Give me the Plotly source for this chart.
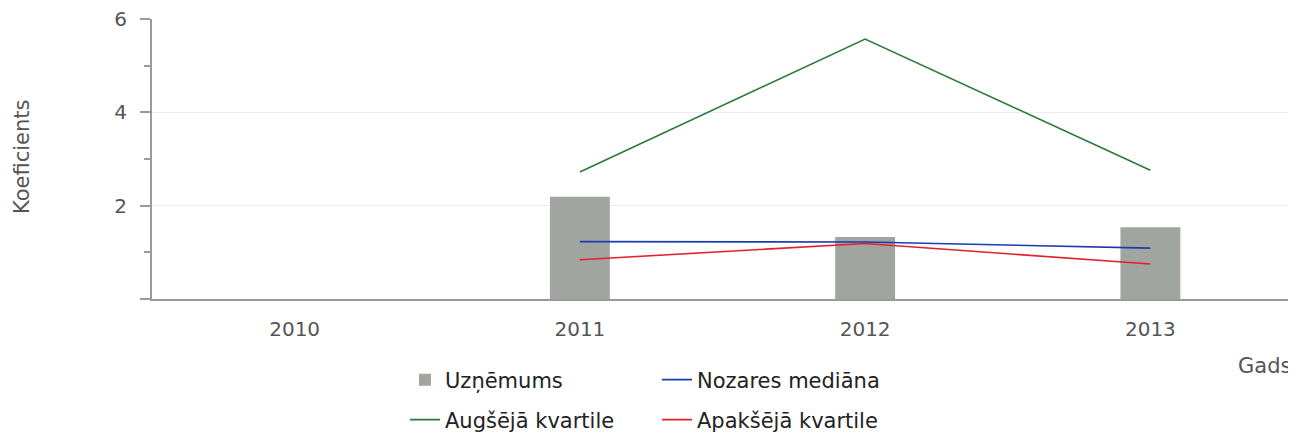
import plotly.graph_objects as go

years = ["2010", "2011", "2012", "2013"]
company = [None, 2.19, 1.33, 1.54]
median = [None, 1.23, 1.22, 1.09]
upper_q = [None, 2.72, 5.57, 2.76]
lower_q = [None, 0.84, 1.19, 0.75]

FONT = "DejaVu Sans"
# page body has an 8px margin, so the figure is drawn 8px in from the corner
W, H = 1288, 426
L, R, T, B = 144, 3, 11, 135
PW, PH = W - L - R, H - T - B
X0, Y1 = 152, 299  # plot left / bottom in screen pixels


def px(xs):
    return (xs - X0) / PW


def py(ys):
    return (Y1 - ys) / PH


fig = go.Figure()
fig.add_trace(go.Bar(x=years, y=company, name="Uzņēmums", width=0.21,
                     marker=dict(color="#a1a59f", line=dict(color="#8e928c", width=0)),
                     legend="legend"))
fig.add_trace(go.Scatter(x=years, y=median, name="Nozares mediāna", mode="lines",
                         line=dict(color="#1a3cb0", width=1.6), legend="legend"))
fig.add_trace(go.Scatter(x=years, y=upper_q, name="Augšējā kvartile", mode="lines",
                         line=dict(color="#2a7a38", width=1.6), legend="legend2"))
fig.add_trace(go.Scatter(x=years, y=lower_q, name="Apakšējā kvartile", mode="lines",
                         line=dict(color="#e5202e", width=1.6), legend="legend2"))

legend_common = dict(orientation="h", xanchor="left", yanchor="middle",
                     font=dict(family=FONT, size=21, color="#222222"),
                     entrywidth=207, entrywidthmode="pixels",
                     bgcolor="rgba(0,0,0,0)", traceorder="normal")

fig.update_layout(
    width=W, height=H,
    margin=dict(l=L, r=R, t=T, b=B, autoexpand=False),
    plot_bgcolor="white", paper_bgcolor="white",
    font=dict(family=FONT, size=20, color="#555555"),
    showlegend=True,
    barmode="overlay",
    legend=dict(x=px(405), y=py(380), **legend_common),
    legend2=dict(x=px(405), y=py(420), **legend_common),
    xaxis=dict(
        type="category", range=[-0.5, 3.5],
        showline=True, linecolor="#9a9a9a", linewidth=2,
        showgrid=False, ticks="outside", ticklen=11, tickcolor="rgba(0,0,0,0)",
        tickfont=dict(family=FONT, size=20, color="#555555"),
        ticklabeloverflow="allow",
    ),
    yaxis=dict(
        range=[0, 6], tickvals=[0, 2, 4, 6], ticktext=["", "2", "4", "6"],
        showline=True, linecolor="#9a9a9a", linewidth=2,
        showgrid=True, gridcolor="#ececec", gridwidth=1,
        ticks="outside", ticklen=10, tickcolor="#9a9a9a", tickwidth=1.5,
        ticklabelstandoff=9, ticklabeloverflow="allow",
        minor=dict(tickvals=[1, 3, 5], ticks="outside", ticklen=6,
                   tickcolor="#9a9a9a", tickwidth=1.5, showgrid=False),
        tickfont=dict(family=FONT, size=20, color="#555555"),
        zeroline=False,
    ),
    annotations=[
        dict(text="Gads", xref="paper", yref="paper", x=1.0, y=py(366),
             xanchor="right", yanchor="middle", showarrow=False,
             font=dict(family=FONT, size=21, color="#555555")),
        dict(text="Koeficients", xref="paper", yref="paper", x=px(22),
             y=py(157), xanchor="center", yanchor="middle",
             textangle=-90, showarrow=False,
             font=dict(family=FONT, size=21, color="#555555")),
    ],
)

fig.write_html("out.html")
